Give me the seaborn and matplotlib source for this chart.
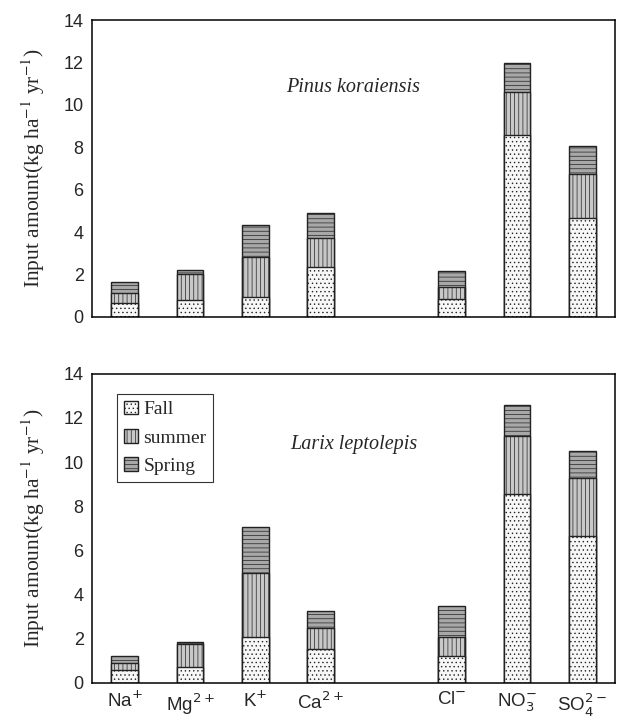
import pandas as pd
import matplotlib
matplotlib.use("Agg")
import matplotlib.pyplot as plt
import seaborn as sns
from matplotlib.patches import Patch

# ion order on the x axis ("gap" is an empty slot between cations and anions)
ions = ["Na", "Mg", "K", "Ca", "gap", "Cl", "NO3", "SO4"]
ion_labels = ["Na$^{+}$", "Mg$^{2+}$", "K$^{+}$", "Ca$^{2+}$", "",
              "Cl$^{-}$", "NO$_3^{-}$", "SO$_4^{2-}$"]
measured = ["Na", "Mg", "K", "Ca", "Cl", "NO3", "SO4"]

# seasonal input amounts (kg ha-1 yr-1)
pinus_fall = [0.63, 0.79, 0.94, 2.36, 0.83, 8.58, 4.64]
pinus_summer = [0.47, 1.25, 1.89, 1.38, 0.57, 2.02, 2.09]
pinus_spring = [0.52, 0.16, 1.48, 1.16, 0.77, 1.40, 1.32]

larix_fall = [0.60, 0.72, 2.10, 1.55, 1.20, 8.54, 6.64]
larix_summer = [0.30, 1.03, 2.90, 0.95, 0.88, 2.62, 2.62]
larix_spring = [0.33, 0.09, 2.05, 0.74, 1.40, 1.42, 1.25]

seasons = ["Fall", "summer", "Spring"]
styles = {
    "Fall": dict(color="#f7f7f7", hatch="...."),
    "summer": dict(color="#c8c8c8", hatch="||||"),
    "Spring": dict(color="#a8a8a8", hatch="----"),
}

sns.set_style("white")
plt.rcParams["font.family"] = ["Liberation Sans", "DejaVu Sans"]
plt.rcParams["hatch.linewidth"] = 0.5


def stacked_panel(ax, fall, summer, spring, species):
    df = pd.DataFrame({"ion": measured, "Fall": fall, "summer": summer, "Spring": spring})
    df["c_fall"] = df["Fall"]
    df["c_summer"] = df["Fall"] + df["summer"]
    df["c_spring"] = df["c_summer"] + df["Spring"]
    # draw tallest first so each lower segment sits on top of it
    for col, season in [("c_spring", "Spring"), ("c_summer", "summer"), ("c_fall", "Fall")]:
        sns.barplot(data=df, x="ion", y=col, order=ions, ax=ax, width=0.41,
                    errorbar=None, edgecolor="#222222", linewidth=1.0,
                    **styles[season])
    ax.set_xlim(-0.5, 7.5)
    ax.set_ylim(0, 14)
    ax.set_yticks(range(0, 15, 2))
    ax.tick_params(axis="both", length=0, labelsize=13, pad=6)
    ax.set_xlabel("")
    ax.set_ylabel("Input amount(kg ha$^{-1}$ yr$^{-1}$)", fontsize=15.5,
                  family="Liberation Serif", math_fontfamily="stix", labelpad=12)
    for s in ax.spines.values():
        s.set_visible(True)
        s.set_color("black")
        s.set_linewidth(1.1)
    ax.text(3.5, 10.8, species, fontsize=14.5, style="italic",
            family="Liberation Serif", ha="center", va="center")


fig = plt.figure(figsize=(6.19, 7.2), dpi=100)
ax1 = fig.add_axes([0.1486, 0.560, 0.845, 0.412])
ax2 = fig.add_axes([0.1486, 0.0514, 0.845, 0.4296])

stacked_panel(ax1, pinus_fall, pinus_summer, pinus_spring, "Pinus koraiensis")
stacked_panel(ax2, larix_fall, larix_summer, larix_spring, "Larix leptolepis")

ax1.set_xticklabels([])
ax2.set_xticks(range(len(ions)))
ax2.set_xticklabels(ion_labels, fontsize=13.5, math_fontfamily="dejavusans")

handles = [Patch(facecolor=styles[s]["color"], hatch=styles[s]["hatch"],
                 edgecolor="#222222", label=s) for s in seasons]
leg = ax2.legend(handles=handles, loc="upper left", bbox_to_anchor=(0.048, 0.935),
                 borderaxespad=0, frameon=True, fancybox=False, edgecolor="black",
                 handlelength=0.7, handleheight=0.7, handletextpad=0.3,
                 labelspacing=0.55, borderpad=0.35,
                 prop={"family": "Liberation Serif", "size": 14})
leg.get_frame().set_linewidth(0.8)

fig.savefig("out.png", dpi=100)
